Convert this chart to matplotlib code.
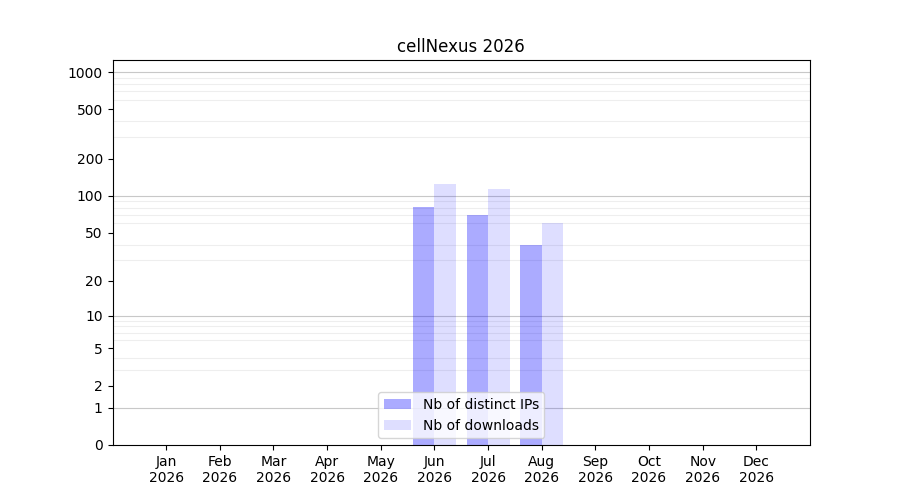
import numpy as np
import matplotlib
matplotlib.use("Agg")
import matplotlib.pyplot as plt

# monthly stats
months = ["Jan", "Feb", "Mar", "Apr", "May", "Jun",
          "Jul", "Aug", "Sep", "Oct", "Nov", "Dec"]
year = 2026
distinct_ips = [0, 0, 0, 0, 0, 81, 70, 40, 0, 0, 0, 0]
downloads = [0, 0, 0, 0, 0, 125, 114, 60, 0, 0, 0, 0]
ytick_vals = [0, 1, 2, 5, 10, 20, 50, 100, 200, 500, 1000]


def fwd(v):
    return np.log10(1 + np.asarray(v, dtype=float))


def inv(v):
    return 10 ** np.asarray(v, dtype=float) - 1


fig, ax = plt.subplots(figsize=(9, 5), dpi=100)
ax.set_yscale("function", functions=(fwd, inv))

x = np.arange(1, len(months) + 1)
w = 0.4
ax.bar(x - w / 2, distinct_ips, width=w, color="blue", alpha=0.33,
       label="Nb of distinct IPs")
ax.bar(x + w / 2, downloads, width=w, color="blue", alpha=0.13,
       label="Nb of downloads")

# light grid on every 1..9 x decade, darker on the decades
minor = [m * 10 ** d for d in range(4) for m in range(2, 10)]
ax.set_yticks(minor, minor=True)
ax.tick_params(axis="y", which="minor", length=0)
ax.grid(axis="y", which="minor", color="#eeeeee", linewidth=0.8)
for d in [1, 10, 100, 1000]:
    ax.axhline(d, color="#c8c8c8", linewidth=0.8, zorder=0.5)
ax.set_axisbelow(True)

ax.set_yticks(ytick_vals)
ax.set_yticklabels([str(v) for v in ytick_vals])
ax.set_ylim(0, 10 * max(downloads))

ax.set_xticks(x)
ax.set_xticklabels([f"{m}\n{year}" for m in months])
ax.set_xlim(0, 13)

ax.set_title(f"cellNexus {year}")
ax.legend(loc="lower center")

fig.savefig("out.png", dpi=100)
